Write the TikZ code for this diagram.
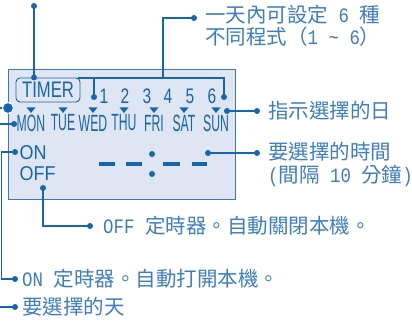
\documentclass[tikz,border=0pt]{standalone}
\usepackage{fontspec}
\usepackage{xcolor}
\usepackage{tikz}
\usetikzlibrary{positioning}
\newfontfamily\cjk{Noto Sans CJK TC}
\newfontfamily\mono[FakeStretch=0.85]{Liberation Mono}
\newfontfamily\lcd[FakeStretch=0.74]{Liberation Sans}
\newfontfamily\lcdday[FakeStretch=0.52]{Liberation Sans}
\newfontfamily\lcdon[FakeStretch=0.9]{Liberation Sans}
\newcommand{\lat}[1]{{\mono\fontsize{20.5}{20.5}\selectfont #1}}
\definecolor{lcdfill}{HTML}{DFE5F3}
\definecolor{frame}{HTML}{3A78BD}
\definecolor{ink}{HTML}{1466B0}
\definecolor{note}{HTML}{3D7DC2}
\begin{document}
\begin{tikzpicture}[x=1pt, y=-1pt,
  ln/.style={draw=ink, line width=1.4pt},
  dot/.style={circle, fill=ink, inner sep=0pt, minimum size=6pt},
  lbl/.style={anchor=west, inner sep=0pt, align=left, text=note, font=\cjk\fontsize{20.5}{22.5}\selectfont},
  lcdtext/.style={inner sep=0pt, text=ink},
  tri/.style={fill=ink}
]
\useasboundingbox (0,0) rectangle (412,323);
\node[draw=frame, fill=lcdfill, line width=0.9pt, minimum width=227pt, minimum height=130pt, anchor=north west, inner sep=0pt] (lcd) at (8,69) {};
\node[lcdtext, draw=ink, rounded corners=4pt, line width=0.9pt, font=\lcd\fontsize{22.5}{22.5}\selectfont, minimum width=64pt, minimum height=24pt] (timer) at (48,90) {TIMER};
\foreach \n/\x in {1/104,2/125,3/147,4/168,5/190,6/212}
  \node[lcdtext, font=\lcd\fontsize{21}{21}\selectfont] (n\n) at (\x,96) {\n};
\foreach \d/\x in {MON/31,TUE/63,WED/93,THU/124,FRI/154,SAT/184,SUN/216} {
  \fill[tri] (\x-4.5,107.5) -- (\x+4.5,107.5) -- (\x,113) -- cycle;
  \node[lcdtext, font=\lcdday\fontsize{23.5}{23.5}\selectfont] (\d) at (\x,123) {\d};
}
\node[lcdtext, anchor=west, font=\lcdon\fontsize{20}{20}\selectfont] (on) at (19.5,153) {ON};
\node[lcdtext, anchor=west, font=\lcdon\fontsize{20}{20}\selectfont] (off) at (19.5,173.5) {OFF};
\foreach \a/\b in {99/115,126/142,163/180,192/207}
  \fill[ink] (\a,162.3) rectangle (\b,165.7);
\node[dot] (colt) at (152,154) {};
\node[dot] (colb) at (152,174) {};

\node[lbl] (progs) at (205,26) {一天內可設定\lat{ 6 }種\\不同程式（\lat{1 \~{} 6}）};
\node[lbl] (daysel) at (268,111) {指示選擇的日};
\node[lbl] (timesel) at (268,164.5) {要選擇的時間\\\lat{(}間隔\lat{ 10 }分鐘\lat{)}};
\node[lbl] (offlbl) at (103,226) {\lat{OFF }定時器。自動關閉本機。};
\node[lbl] (onlbl) at (22,279) {\lat{ON }定時器。自動打開本機。};
\node[lbl] (daylbl) at (22,307) {要選擇的天};

\node[dot] (d-top) at (34,6) {};
\node[dot] (d-timer) at (34,77.5) {};
\node[dot] (d-bl) at (94,97) {};
\node[dot] (d-br) at (224,97) {};
\node[dot] (d-progs) at (194,18) {};
\node[dot] (d-sun) at (227,111) {};
\node[dot] (d-daysel) at (257,111) {};
\node[dot] (d-time) at (208,153) {};
\node[dot] (d-timesel) at (257,153) {};
\node[dot] (d-off) at (43,188) {};
\node[dot] (d-offlbl) at (90,226) {};
\node[dot] (d-on) at (15,152) {};
\node[dot] (d-onlbl) at (15,279) {};
\node[dot] (d-mon) at (14,124) {};
\node[dot] (d-daylbl) at (15,307) {};
\node[circle, fill=ink, draw=white, line width=1pt, inner sep=0pt, minimum size=11pt] (big) at (8,108) {};

\draw[ln] (d-timer.center) -- (d-top.center);
\draw[ln] (d-bl.center) |- (78,78) -| (d-br.center);
\draw[ln] (163,78) |- (d-progs.center);
\draw[ln] (d-sun.center) -- (d-daysel.center);
\draw[ln] (d-time.center) -- (d-timesel.center);
\draw[ln] (d-off.center) |- (d-offlbl.center);
\draw[ln] (d-on.center) -- ++(-13.5,0) |- (d-onlbl.center);
\draw[ln] (d-mon.center) -- ++(-16,0) |- (d-daylbl.center);
\draw[ln] (big.west) -- ++(-10,0);
\end{tikzpicture}
\end{document}
